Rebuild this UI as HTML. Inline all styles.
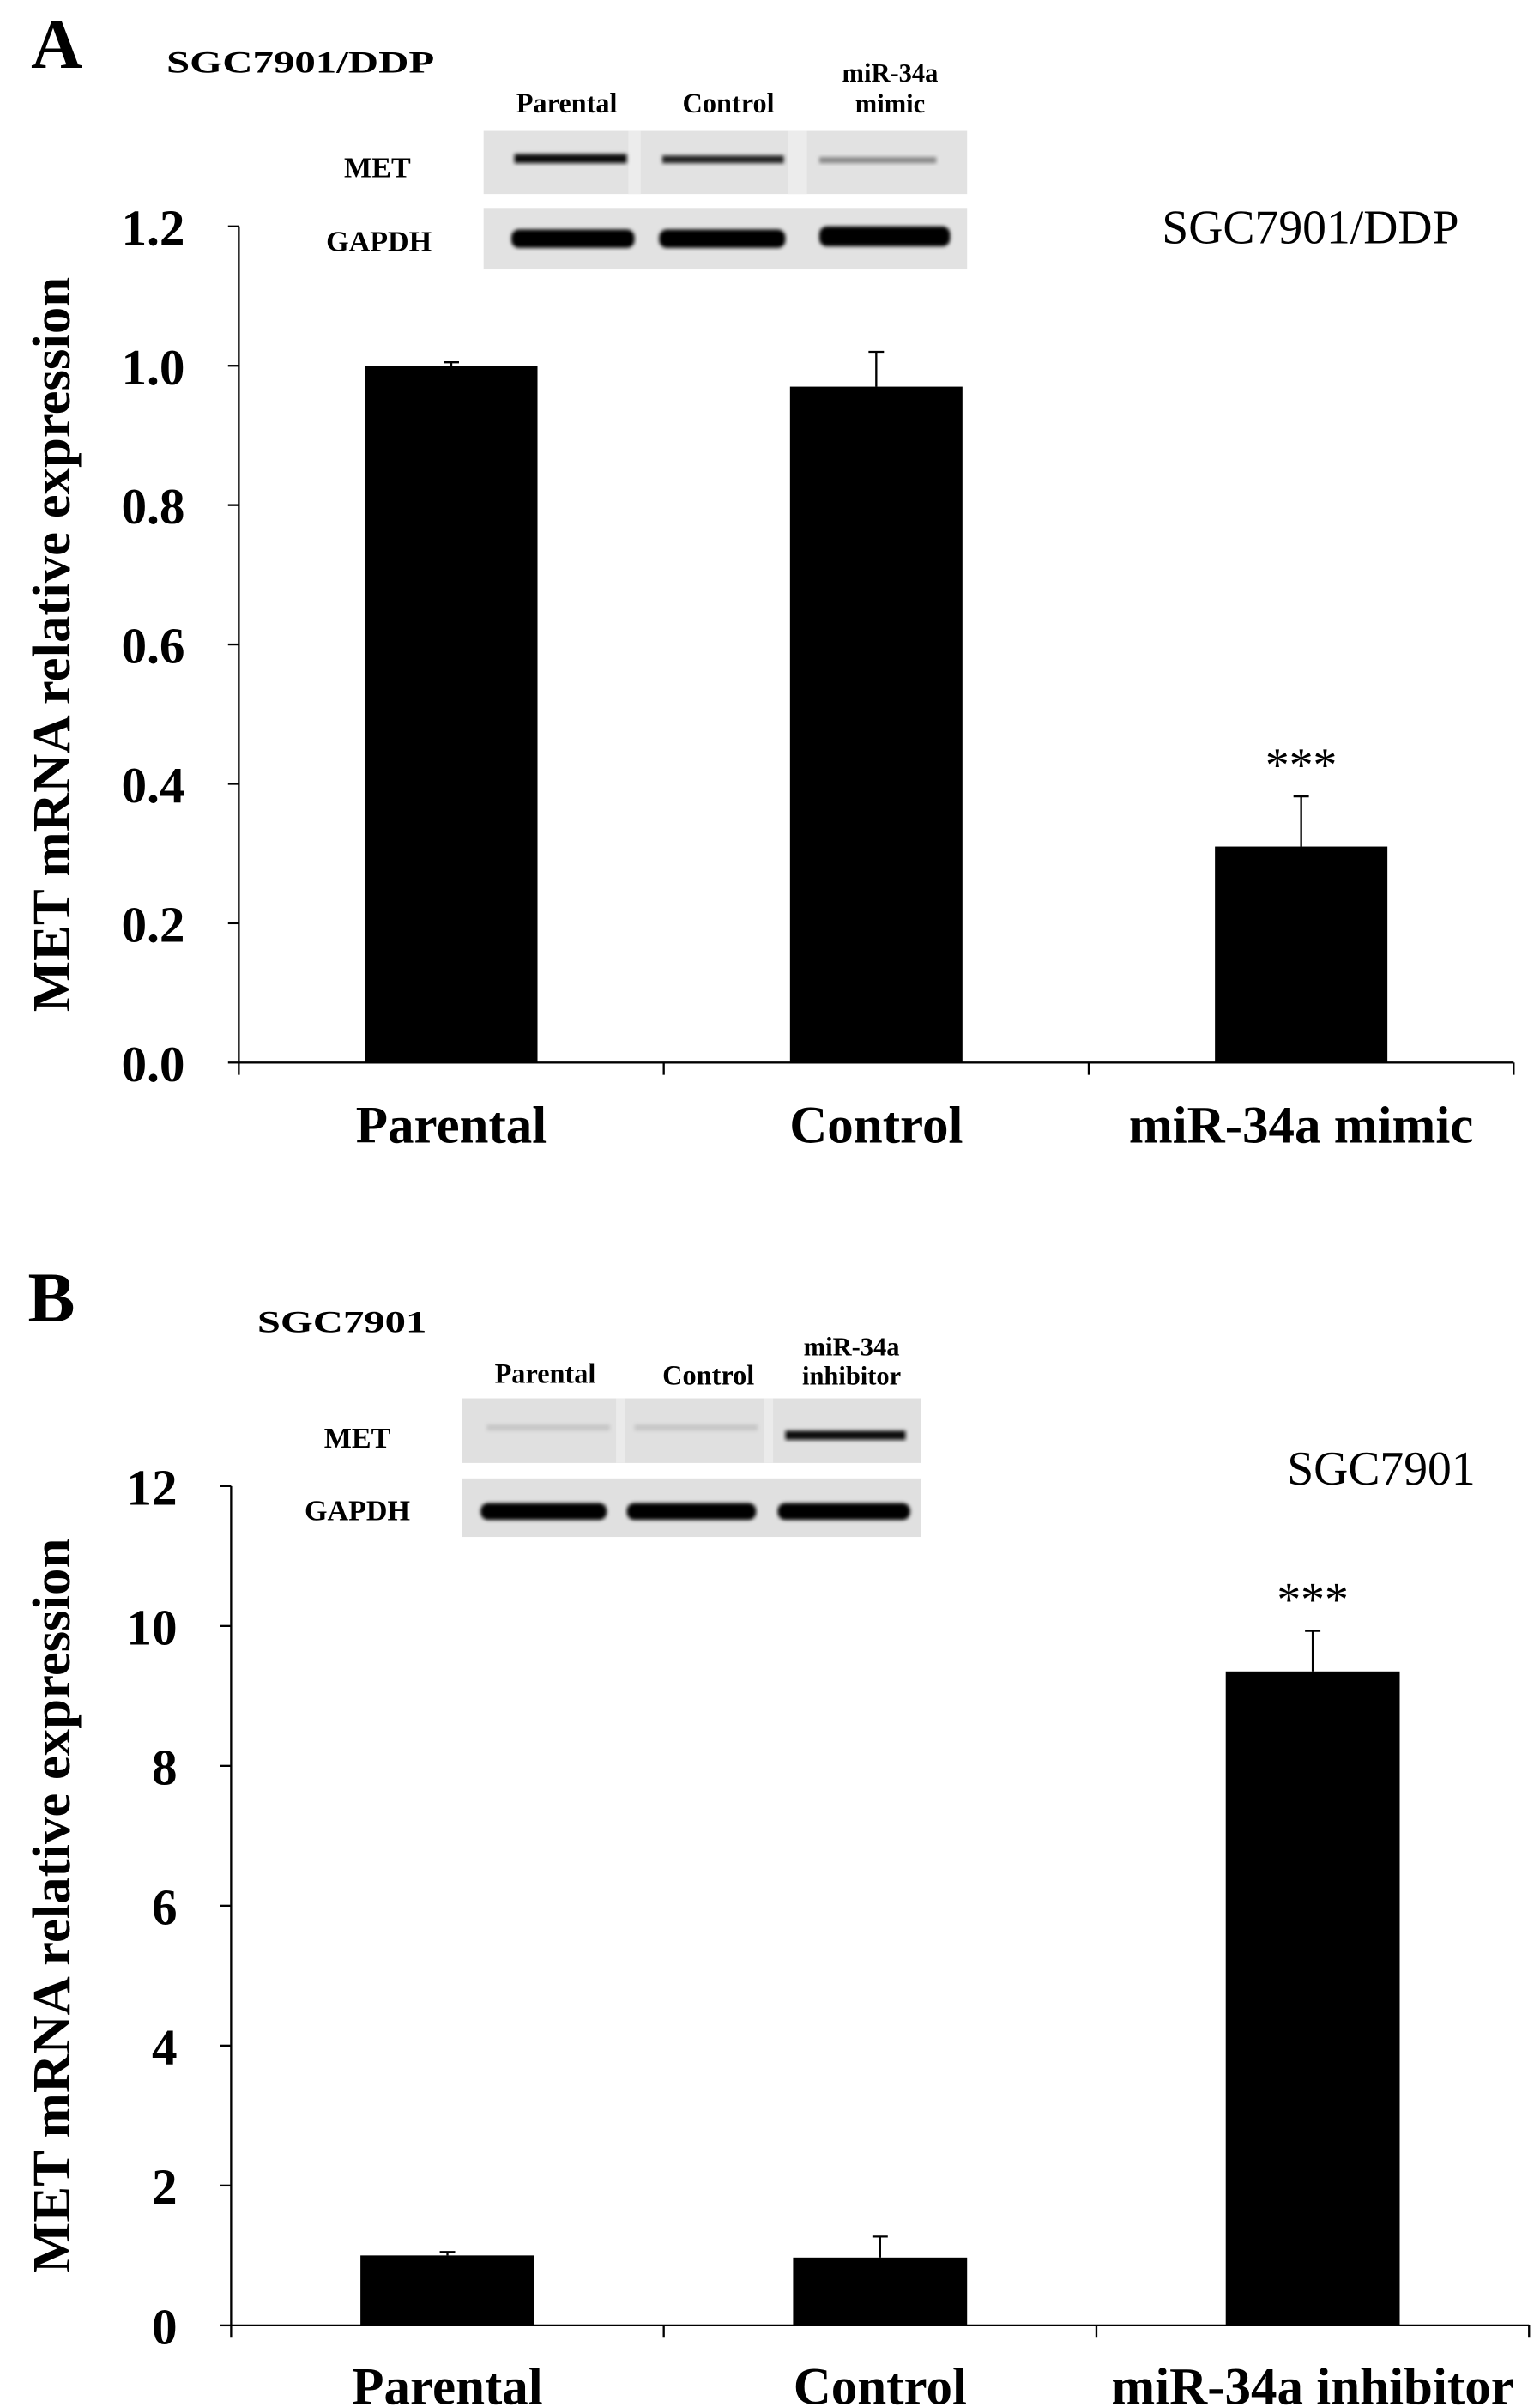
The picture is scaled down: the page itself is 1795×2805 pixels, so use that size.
<!DOCTYPE html>
<html><head><meta charset="utf-8"><style>
html,body{margin:0;padding:0;background:#fff;}
svg{display:block;}
text{font-family:"Liberation Serif",serif;fill:#000;}
.b{font-weight:bold;}
</style></head><body>
<svg id="fig" width="1795" height="2805" viewBox="0 0 1000 1563" xmlns="http://www.w3.org/2000/svg">
<defs><filter id="bl" x="-10%" y="-50%" width="120%" height="200%"><feGaussianBlur stdDeviation="1.2"/></filter></defs>

<g>
<text x="20" y="44" class="b" font-size="46">A</text>
<text x="108" y="47" class="b" font-size="20" textLength="174" lengthAdjust="spacingAndGlyphs">SGC7901/DDP</text>
<text x="368" y="73" class="b" font-size="18" text-anchor="middle">Parental</text>
<text x="473" y="73" class="b" font-size="18" text-anchor="middle">Control</text>
<text x="578" y="53" class="b" font-size="17" text-anchor="middle">miR-34a</text>
<text x="578" y="73" class="b" font-size="17" text-anchor="middle">mimic</text>
<text x="245" y="115" class="b" font-size="19" text-anchor="middle">MET</text>
<text x="246" y="163" class="b" font-size="19" text-anchor="middle">GAPDH</text>
<g>
<rect x="314" y="85" width="314" height="41" fill="#e2e2e2"/>
<rect x="408" y="85" width="8" height="41" fill="#ececec"/><rect x="512" y="85" width="12" height="41" fill="#ececec"/>
<rect x="334" y="100" width="73" height="6" fill="#111" filter="url(#bl)"/>
<rect x="430" y="101" width="79" height="5" fill="#222" filter="url(#bl)"/>
<rect x="532" y="102" width="76" height="4" fill="#888" filter="url(#bl)"/>
</g>
<g>
<rect x="314" y="135" width="314" height="40" fill="#e2e2e2"/>
<rect x="332" y="149" width="80" height="12" rx="5" fill="#000" filter="url(#bl)"/>
<rect x="428" y="149" width="82" height="12" rx="5" fill="#000" filter="url(#bl)"/>
<rect x="532" y="147" width="85" height="13" rx="5" fill="#000" filter="url(#bl)"/>
</g>
<text x="851" y="158" font-size="31" text-anchor="middle">SGC7901/DDP</text>
<g id="chartA"></g>
</g>

<g>
<text x="18" y="858" class="b" font-size="46">B</text>
<text x="167" y="865" class="b" font-size="20" textLength="110" lengthAdjust="spacingAndGlyphs">SGC7901</text>
<text x="354" y="898" class="b" font-size="18" text-anchor="middle">Parental</text>
<text x="460" y="899" class="b" font-size="18" text-anchor="middle">Control</text>
<text x="553" y="880" class="b" font-size="17" text-anchor="middle">miR-34a</text>
<text x="553" y="899" class="b" font-size="17" text-anchor="middle">inhibitor</text>
<text x="232" y="940" class="b" font-size="19" text-anchor="middle">MET</text>
<text x="232" y="987" class="b" font-size="19" text-anchor="middle">GAPDH</text>
<g>
<rect x="300" y="908" width="298" height="42" fill="#e0e0e0"/>
<rect x="400" y="908" width="6" height="42" fill="#ebebeb"/><rect x="496" y="908" width="6" height="42" fill="#ebebeb"/>
<rect x="316" y="925" width="80" height="4" fill="#c6c6c6" filter="url(#bl)"/>
<rect x="412" y="925" width="80" height="4" fill="#c6c6c6" filter="url(#bl)"/>
<rect x="510" y="929" width="78" height="6" fill="#111" filter="url(#bl)"/>
</g>
<g>
<rect x="300" y="960" width="298" height="38" fill="#e0e0e0"/>
<rect x="312" y="976" width="82" height="11" rx="5" fill="#000" filter="url(#bl)"/>
<rect x="407" y="976" width="84" height="11" rx="5" fill="#000" filter="url(#bl)"/>
<rect x="505" y="976" width="86" height="11" rx="5" fill="#000" filter="url(#bl)"/>
</g>
<text x="897" y="964" font-size="31" text-anchor="middle">SGC7901</text>
<g id="chartB"></g>
</g>
</svg>
<script>
const categoriesA = ["Parental", "Control", "miR-34a mimic"];
const valuesA = [1.0, 0.97, 0.31];
const errorsA = [0.005, 0.05, 0.072];
const ticksA = ["0.0", "0.2", "0.4", "0.6", "0.8", "1.0", "1.2"];
const sigA = ["", "", "***"];

const categoriesB = ["Parental", "Control", "miR-34a inhibitor"];
const valuesB = [1.0, 0.97, 9.35];
const errorsB = [0.05, 0.3, 0.58];
const ticksB = ["0", "2", "4", "6", "8", "10", "12"];
const sigB = ["", "", "***"];

const NS = "http://www.w3.org/2000/svg";
function mk(parent, tag, attrs, txt) {
  const e = document.createElementNS(NS, tag);
  for (const k in attrs) e.setAttribute(k, attrs[k]);
  if (txt !== undefined) e.textContent = txt;
  parent.appendChild(e);
  return e;
}
function drawChart(gid, cats, vals, errs, ticks, sig, cfg) {
  const g = document.getElementById(gid);
  const ymax = parseFloat(ticks[ticks.length - 1]);
  const y = v => cfg.y0 - (v / ymax) * (cfg.y0 - cfg.y1);
  const band = (cfg.x1 - cfg.x0) / cats.length;
  const xc = i => cfg.x0 + band * (i + 0.5);
  const ya = mk(g, "line", {x1: cfg.x0, y1: cfg.y1, x2: cfg.x0, y2: cfg.y0, stroke: "#000", "stroke-width": 1.3});
  
  
  const xa = mk(g, "line", {x1: cfg.x0, y1: cfg.y0, x2: cfg.x1, y2: cfg.y0, stroke: "#000", "stroke-width": 1.3});
  
  
  ticks.forEach((t, i) => {
    const v = parseFloat(t);
    const tk = mk(g, "line", {x1: cfg.x0 - 7, y1: y(v), x2: cfg.x0, y2: y(v), stroke: "#000", "stroke-width": 1.3});
    
    
    const tl = mk(g, "text", {x: cfg.x0 - 35, y: y(v) + 12, "font-size": 33, "font-weight": "bold", "text-anchor": "end"}, t);
    
    
  });
  for (let i = 0; i <= cats.length; i++) {
    const xt = cfg.x0 + band * i;
    const tk = mk(g, "line", {x1: xt, y1: cfg.y0, x2: xt, y2: cfg.y0 + 8, stroke: "#000", "stroke-width": 1.3});
    
    
  }
  cats.forEach((c, i) => {
    const bw = cfg.bw;
    const bar = mk(g, "rect", {x: xc(i) - bw / 2, y: y(vals[i]), width: bw, height: cfg.y0 - y(vals[i]), fill: "#000"});
    
    
    const top = y(vals[i] + errs[i]);
    const el = mk(g, "line", {x1: xc(i), y1: y(vals[i]), x2: xc(i), y2: top, stroke: "#000", "stroke-width": 1.3});
    
    
    const cap = mk(g, "line", {x1: xc(i) - 5, y1: top, x2: xc(i) + 5, y2: top, stroke: "#000", "stroke-width": 1.3});
    
    
    if (sig[i]) {
      const s = mk(g, "text", {x: xc(i), y: top - 10, "font-size": 31, "text-anchor": "middle"}, sig[i]);
      
      
    }
    const lab = mk(g, "text", {x: xc(i), y: cfg.y0 + cfg.labOff, "font-size": 34, "font-weight": "bold", "text-anchor": "middle"}, c);
    
    
  });
  const yc = (cfg.y0 + cfg.y1) / 2 + cfg.titleShift;
  const tt = mk(g, "text", {x: 0, y: 0, "font-size": 35, "font-weight": "bold", "text-anchor": "middle", transform: "translate(" + cfg.titleX + "," + yc + ") rotate(-90)"}, "MET mRNA relative expression");
  
  
}
drawChart("chartA", categoriesA, valuesA, errorsA, ticksA, sigA,
  {x0: 155, x1: 983, y0: 690, y1: 147, bw: 112, labOff: 52, titleX: 45, titleShift: 0});
drawChart("chartB", categoriesB, valuesB, errorsB, ticksB, sigB,
  {x0: 150, x1: 993, y0: 1510, y1: 965, bw: 113, labOff: 51, titleX: 45, titleShift: 0});
</script>
</body></html>
